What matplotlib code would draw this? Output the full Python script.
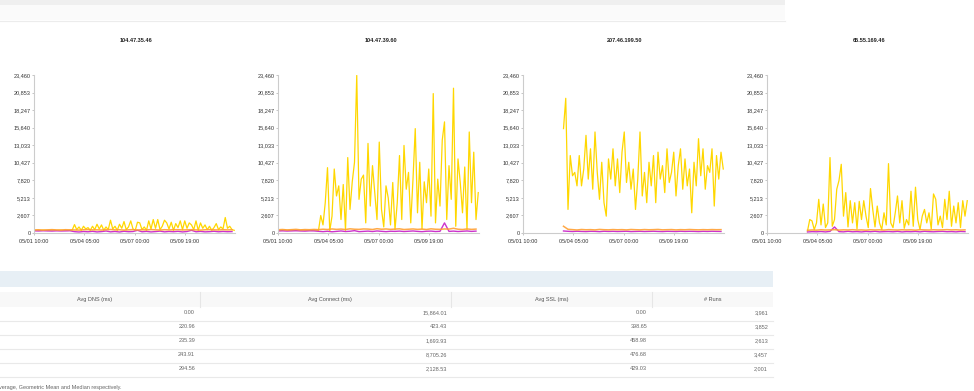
import numpy as np
import matplotlib.pyplot as plt
from matplotlib.patches import Rectangle

plt.rcParams['font.family'] = ['Liberation Sans', 'DejaVu Sans']

# ---- data -----------------------------------------------------------------
hosts = ['104.47.35.46', '104.47.39.60', '207.46.199.50', '65.55.169.46']

# hours since 05/01 10:00
t_full = np.arange(0, 270, 3)        # yellow, every 3 h
t_part = np.arange(54, 270, 3)       # yellow, host started later
t_low_full = np.arange(0, 270, 6)    # lower series, every 6 h
t_low_part = np.arange(54, 270, 6)

x_ticks = [0, 67, 134, 201]
x_labels = ['05/01 10:00', '05/04 05:00', '05/07 00:00', '05/09 19:00']
y_ticks = [0, 2607, 5213, 7820, 10427, 13033, 15640, 18247, 20853, 23460]

yellow_1 = [380, 420, 400, 390, 430, 410, 380, 400, 440, 420,
            390, 410, 430, 400, 420, 380, 410, 450,
            1250, 500, 900, 400, 1000, 600, 800, 400, 1000, 500,
            1300, 600, 1200, 400, 900, 500, 1900, 600, 1000, 400,
            1300, 700, 1700, 500, 900, 1800, 600, 400, 1600, 1500,
            500, 900, 400, 1800, 600, 2000, 700, 2000, 500, 1000,
            1900, 1500, 600, 1600, 400, 1400, 800, 1800, 500, 1800,
            700, 1500, 1200, 500, 1800, 400, 1500, 700, 1200, 500,
            1000, 400, 800, 1400, 500, 900, 600, 2300, 700, 1000,
            500, 400]
yellow_2 = [420, 380, 410, 450, 400, 390, 430, 410, 380, 420,
            400, 440, 410, 390, 420, 400, 430, 410, 390, 2600,
            1200, 4500, 9700, 300, 2500, 9500, 5500, 7000, 2000, 7200,
            400, 11200, 3500, 7600, 10500, 23400, 5000, 8000, 8600, 1500,
            13300, 4000, 10000, 6000, 2000, 13500, 3500, 900, 7000, 5200,
            1200, 7500, 500, 4500, 11500, 2000, 13000, 6500, 9000, 1500,
            8000, 15500, 3000, 10500, 600, 7600, 4500, 9500, 2500, 20700,
            1500, 8000, 4000, 13800, 16500, 2000, 10000, 5000, 21500, 1000,
            11000, 7500, 3000, 9800, 500, 15000, 4500, 12000, 2000, 6000]
yellow_3 = [15500, 20000, 3500, 11500, 8500, 9000, 7000, 11500, 7000, 9500,
            14500, 8000, 12500, 6500, 15000, 9000, 5000, 10500, 4500, 2500,
            11000, 8000, 12500, 7000, 11000, 6000, 12000, 15000, 7500, 10500,
            6500, 9500, 3500, 8000, 15000, 5500, 9000, 4500, 10500, 7000,
            11500, 4500, 12000, 8000, 10000, 6000, 12500, 7500, 9000, 12000,
            5500, 10000, 12500, 6500, 11000, 7000, 9500, 3000, 10500, 7000,
            14000, 8500, 12500, 6500, 10000, 9000, 12500, 4000, 11500, 8000,
            12000, 9500]
yellow_4 = [300, 2000, 1800, 500, 1500, 5000, 1200, 4300, 800, 1500,
            11200, 1000, 2000, 6500, 7800, 10200, 2500, 6000, 900, 4800,
            1500, 4500, 600, 4700, 2000, 4800, 2500, 800, 6600, 3500,
            900, 4000, 1500, 500, 3000, 1200, 10300, 1500, 800, 3000,
            5500, 1500, 4800, 700, 2000, 1200, 6200, 1000, 6800, 2000,
            500, 2500, 3500, 1500, 3000, 600, 5800, 5000, 1200, 2500,
            800, 5000, 2000, 6200, 1000, 4000, 1500, 4500, 800, 4800,
            2500, 4800]

orange_1 = [450, 480, 430, 470, 500, 460, 440, 490, 470, 450,
            430, 480, 500, 460, 470, 440, 490, 520, 460, 480,
            430, 470, 500, 450, 480, 460, 510, 470, 440, 490,
            460, 480, 500, 450, 470, 490, 460, 430, 480, 500,
            470, 450, 490, 460, 480]
magenta_1 = [320, 300, 330, 310, 290, 320, 300, 310, 330, 200,
             150, 220, 180, 250, 160, 210, 300, 170, 230, 150,
             260, 190, 220, 400, 180, 240, 160, 210, 280, 170,
             230, 190, 250, 160, 220, 400, 180, 240, 170, 200,
             260, 180, 230, 190, 210]
orange_2 = [480, 520, 460, 500, 540, 470, 510, 490, 530, 500,
            560, 520, 600, 540, 580, 520, 620, 560, 540, 600,
            580, 520, 640, 560, 600, 540, 580, 620, 520, 560,
            600, 540, 580, 520, 620, 560, 540, 600, 580, 700,
            560, 520, 600, 540, 580]
magenta_2 = [300, 320, 290, 310, 330, 300, 280, 320, 310, 250,
             200, 260, 180, 240, 300, 220, 260, 350, 200, 240,
             280, 220, 300, 250, 200, 260, 240, 280, 220, 260,
             300, 240, 200, 260, 280, 220, 250, 1500, 240, 280,
             220, 260, 300, 240, 280]
orange_3 = [1000, 550, 500, 450, 520, 480, 500, 460, 530, 490,
            470, 510, 480, 500, 460, 520, 490, 470, 510, 480,
            500, 530, 470, 490, 510, 460, 500, 480, 520, 490,
            470, 500, 480, 510, 490, 500]
magenta_3 = [300, 250, 220, 260, 230, 210, 250, 240, 200, 260,
             230, 250, 220, 240, 260, 210, 230, 250, 220, 240,
             260, 230, 210, 250, 240, 220, 260, 230, 250, 240,
             210, 250, 230, 260, 240, 230]
orange_4 = [400, 450, 420, 480, 440, 460, 500, 430, 470, 450,
            490, 440, 460, 420, 480, 450, 470, 430, 500, 460,
            440, 480, 450, 470, 420, 490, 460, 440, 480, 450,
            470, 500, 460, 480, 440, 470]
magenta_4 = [150, 200, 180, 220, 160, 240, 900, 200, 170, 250,
             180, 210, 160, 230, 190, 250, 170, 200, 220, 180,
             240, 160, 210, 190, 230, 170, 250, 200, 180, 220,
             240, 190, 210, 170, 230, 200]

# table
col_names = ['Avg DNS (ms)', 'Avg Connect (ms)', 'Avg SSL (ms)', '# Runs']
avg_dns = [0.00, 220.96, 235.39, 243.91, 294.56]
avg_connect = [15864.01, 423.43, 1693.93, 8705.26, 2128.53]
avg_ssl = [0.00, 398.65, 458.98, 476.68, 429.03]
runs = [3961, 3852, 2613, 3457, 2001]

# ---- figure ---------------------------------------------------------------
W, H = 974, 391
fig = plt.figure(figsize=(W / 100, H / 100), dpi=100)


def box(x, y, w, h):
    return [x / W, 1 - (y + h) / H, w / W, h / H]


def rect(x, y, w, h, color):
    fig.patches.append(Rectangle((x / W, 1 - (y + h) / H), w / W, h / H,
                                 transform=fig.transFigure, color=color,
                                 lw=0, zorder=0))


def hline(y, x0, x1, color):
    fig.add_artist(plt.Line2D([x0 / W, x1 / W], [1 - y / H, 1 - y / H],
                              transform=fig.transFigure, color=color, lw=0.8))


def vline(x, y0, y1, color):
    fig.add_artist(plt.Line2D([x / W, x / W], [1 - y0 / H, 1 - y1 / H],
                              transform=fig.transFigure, color=color, lw=0.8))


# page header bands
rect(0, 0, 785, 5, '#efefef')
rect(0, 5, 785, 15, '#fafafa')
hline(20.5, 0, 785, '#ececec')

yellow = '#FFD700'
orange = '#FFA033'
magenta = '#CC33CC'

charts = [
    (34, 136, t_full, yellow_1, t_low_full, orange_1, magenta_1),
    (278, 381, t_full, yellow_2, t_low_full, orange_2, magenta_2),
    (523, 625, t_part, yellow_3, t_low_part, orange_3, magenta_3),
    (767, 869, t_part, yellow_4, t_low_part, orange_4, magenta_4),
]

for i, (x0, xt, ty, yy, tl, oo, mm) in enumerate(charts):
    ax = fig.add_axes(box(x0, 75, 201, 158))
    ax.plot(ty, yy, color=yellow, lw=0.9)
    ax.plot(tl, mm, color=magenta, lw=1.0)
    ax.plot(tl, oo, color=orange, lw=1.1, alpha=0.9)
    ax.set_xlim(0, 268)
    ax.set_ylim(0, 23460)
    ax.set_yticks(y_ticks)
    ax.set_yticklabels([f'{v:,}' for v in y_ticks])
    ax.set_xticks(x_ticks)
    ax.set_xticklabels(x_labels)
    for s in ['top', 'right']:
        ax.spines[s].set_visible(False)
    for s in ['left', 'bottom']:
        ax.spines[s].set_color('#cccccc')
        ax.spines[s].set_linewidth(0.8)
    ax.tick_params(axis='y', length=1.5, width=0.6, color='#bbbbbb', pad=0.8,
                   labelsize=4, labelcolor='#333333')
    ax.tick_params(axis='x', length=1.5, width=0.6, color='#bbbbbb', pad=2.5,
                   labelsize=4, labelcolor='#333333')
    ax.patch.set_alpha(0)
    fig.text(xt / W, 1 - 41 / H, hosts[i], ha='center', va='center',
             fontsize=4, fontweight='bold', color='#222222')

# ---- table ----------------------------------------------------------------
rect(0, 271, 773, 16, '#e7eff5')
rect(0, 292, 773, 15, '#f8f8f8')
for xv in [200, 451, 652]:
    vline(xv, 292, 307, '#e6e6e6')

header_x = [95, 330, 552, 713]
for name, xh in zip(col_names, header_x):
    fig.text(xh / W, 1 - 299.5 / H, name, ha='center', va='center',
             fontsize=4, color='#555555')

right_x = [195, 447, 647, 768]
row_y = [313, 327, 341, 355, 369]
for r, yr in enumerate(row_y):
    cells = [f'{avg_dns[r]:,.2f}', f'{avg_connect[r]:,.2f}',
             f'{avg_ssl[r]:,.2f}', f'{runs[r]:,}']
    for c, xr in zip(cells, right_x):
        fig.text(xr / W, 1 - yr / H, c, ha='right', va='center',
                 fontsize=4, color='#666666')
    hline(yr + 7.7, 0, 773, '#e9e9e9')

fig.text(-1 / W, 1 - 387 / H, 'verage, Geometric Mean and Median respectively.',
         ha='left', va='center', fontsize=4, color='#666666')

fig.savefig('out.png', dpi=100)
